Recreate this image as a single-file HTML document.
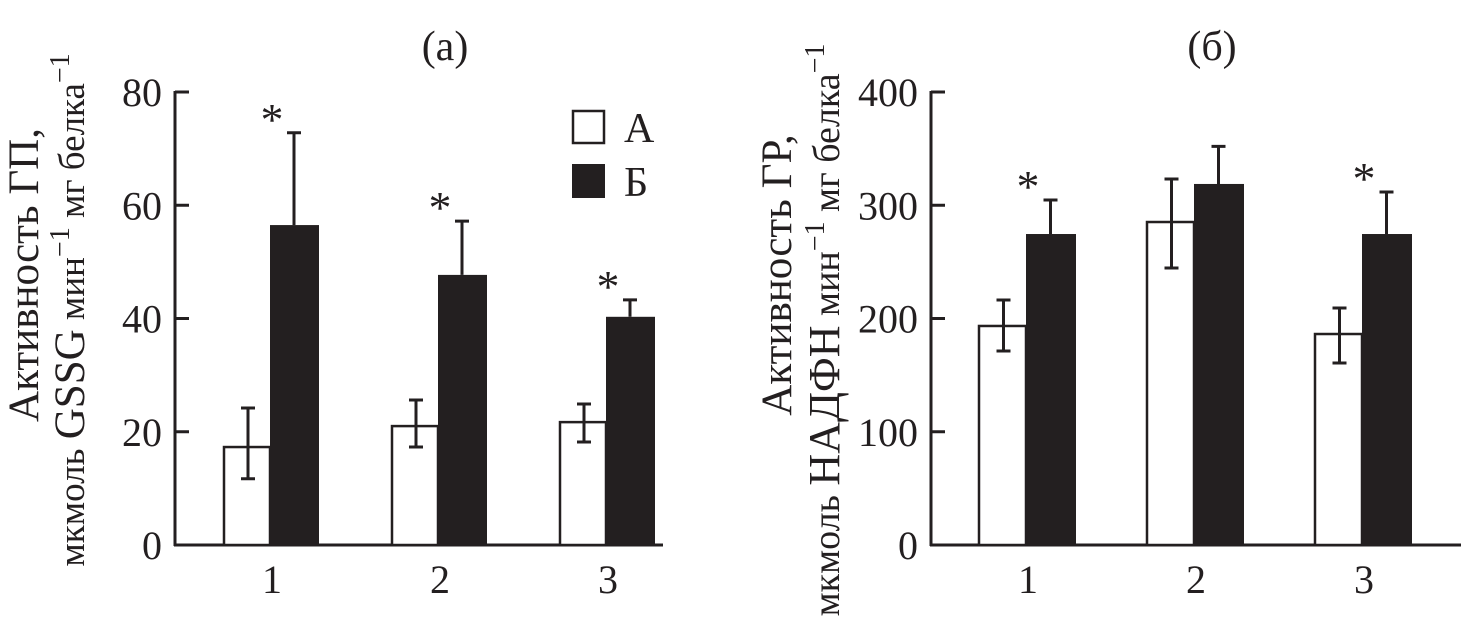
<!DOCTYPE html>
<html><head><meta charset="utf-8"><style>
html,body{margin:0;padding:0;background:#fff;}
svg{display:block;font-family:"Liberation Serif",serif;}
</style></head><body>
<svg id="chart" width="1461" height="635" viewBox="0 0 1461 635">
<g id="panelA"></g>
<g id="panelB"></g>
</svg>
<script>
const categories = ["1","2","3"];
const aValuesA = [17.3, 21.0, 21.7];
const aErrHiA = [24.2, 25.6, 24.9];
const aErrLoA = [11.7, 17.3, 18.2];
const bValuesA = [56.5, 47.7, 40.3];
const bErrHiA = [72.8, 57.2, 43.3];
const sigA = [true, true, true];
const ticksA = [0, 20, 40, 60, 80];

const aValuesB = [193.4, 285.2, 186.3];
const aErrHiB = [216.3, 323.2, 209.3];
const aErrLoB = [171.3, 244.6, 160.7];
const bValuesB = [274.6, 318.8, 274.6];
const bErrHiB = [304.6, 352.0, 311.7];
const sigB = [true, false, true];
const ticksB = [0, 100, 200, 300, 400];

const NS = "http://www.w3.org/2000/svg";
function mk(parent, tag, attrs, text){
  const e = document.createElementNS(NS, tag);
  for (const k in attrs) e.setAttribute(k, attrs[k]);
  if (text !== undefined) e.textContent = text;
  parent.appendChild(e);
  return e;
}

function panel(g, cfg){
  const y0 = 545, y1 = 92;
  const ys = v => y0 - (v / cfg.max) * (y0 - y1);
  const ax = cfg.axisX;
  let e;
  e = mk(g, "line", {x1:ax, y1:y1-1, x2:ax, y2:y0+1, stroke:"#231f20", "stroke-width":3});
  
  
  e = mk(g, "line", {x1:ax-1, y1:y0, x2:cfg.axisEnd, y2:y0, stroke:"#231f20", "stroke-width":3});
  
  
  cfg.ticks.forEach(t => {
    const y = ys(t);
    let l = mk(g, "line", {x1:ax, y1:y, x2:ax+14, y2:y, stroke:"#231f20", "stroke-width":3});
    
    
    let tx = mk(g, "text", {x:ax-13, y:y+14, "font-size":40, "text-anchor":"end", fill:"#231f20"}, String(t));
    
    
  });
  categories.forEach((c, i) => {
    const gx = cfg.groupX0 + i * cfg.groupStep;
    const bw = cfg.barW;
    let r = mk(g, "rect", {x:gx - bw, y:ys(cfg.a[i]), width:bw, height:y0 - ys(cfg.a[i]), fill:"#fff", stroke:"#231f20", "stroke-width":2.5});
    
    
    let rb = mk(g, "rect", {x:gx, y:ys(cfg.b[i]), width:bw + 3, height:y0 - ys(cfg.b[i]), fill:"#231f20"});
    
    
    const ex = gx - bw / 2 + 1;
    let ea = mk(g, "path", {d:`M${ex},${ys(cfg.aHi[i])}V${ys(cfg.aLo[i])}M${ex-7},${ys(cfg.aHi[i])}H${ex+7}M${ex-7},${ys(cfg.aLo[i])}H${ex+7}`, stroke:"#231f20", "stroke-width":3, fill:"none"});
    
    
    const exb = gx + bw / 2 + 1;
    let eb = mk(g, "path", {d:`M${exb},${ys(cfg.bHi[i])}V${ys(cfg.b[i])}M${exb-7},${ys(cfg.bHi[i])}H${exb+7}`, stroke:"#231f20", "stroke-width":3, fill:"none"});
    
    
    if (cfg.sig[i]) {
      let s = mk(g, "text", {x:gx + 2, y:ys(cfg.bHi[i]) + 2, "font-size":46, "text-anchor":"middle", fill:"#231f20"}, "*");
      
      
    }
    let xl = mk(g, "text", {x:gx + 2, y:593, "font-size":40, "text-anchor":"middle", fill:"#231f20"}, c);
    
    
  });
  let t = mk(g, "text", {x:cfg.titleX, y:60, "font-size":42, "text-anchor":"middle", fill:"#231f20"}, cfg.title);
  
  
  let y1t = mk(g, "text", {transform:`translate(${cfg.lab1X},${cfg.lab1Y}) rotate(-90)`, "font-size":43, "text-anchor":"middle", fill:"#231f20"}, cfg.label1);
  
  
  let y2t = mk(g, "text", {transform:`translate(${cfg.lab2X},${cfg.lab2Y}) rotate(-90)`, "font-size":cfg.lab2Size, "text-anchor":"middle", fill:"#231f20"});
  
  
  cfg.label2.forEach(p => {
    mk(y2t, "tspan", p.sup ? {"font-size":28, dy:-15} : {"font-size":p.big ? cfg.lab2Size + 6 : cfg.lab2Size, dy: p.after ? 15 : 0}, p.t);
  });
}

panel(document.getElementById("panelA"), {
  max:80, ticks:ticksA, axisX:175, axisEnd:663, groupX0:270, groupStep:168, barW:46,
  a:aValuesA, aHi:aErrHiA, aLo:aErrLoA, b:bValuesA, bHi:bErrHiA, sig:sigA,
  title:"(а)", titleX:445,
  label1:"Активность ГП,", lab1X:38, lab1Y:275,
  label2:[{t:"мкмоль "},{t:"GSSG",big:true},{t:" мин"},{t:"−1",sup:true},{t:" мг белка",after:true},{t:"−1",sup:true}], lab2X:84, lab2Y:310, lab2Size:37
});
panel(document.getElementById("panelB"), {
  max:400, ticks:ticksB, axisX:931, axisEnd:1461, groupX0:1026, groupStep:168, barW:47,
  a:aValuesB, aHi:aErrHiB, aLo:aErrLoB, b:bValuesB, bHi:bErrHiB, sig:sigB,
  title:"(б)", titleX:1212,
  label1:"Активность ГР,", lab1X:791, lab1Y:275,
  label2:[{t:"мкмоль "},{t:"НАДФН",big:true},{t:" мин"},{t:"−1",sup:true},{t:" мг белка",after:true},{t:"−1",sup:true}], lab2X:839, lab2Y:330, lab2Size:38
});

const lg = document.getElementById("panelA");
let lr1 = mk(lg, "rect", {x:573, y:111, width:31, height:32, fill:"#fff", stroke:"#231f20", "stroke-width":2.5});


let lt1 = mk(lg, "text", {x:624, y:142, "font-size":42, fill:"#231f20"}, "А");


let lr2 = mk(lg, "rect", {x:572, y:164, width:33, height:34, fill:"#231f20"});


let lt2 = mk(lg, "text", {x:624, y:196, "font-size":42, fill:"#231f20"}, "Б");


</script>
</body></html>
